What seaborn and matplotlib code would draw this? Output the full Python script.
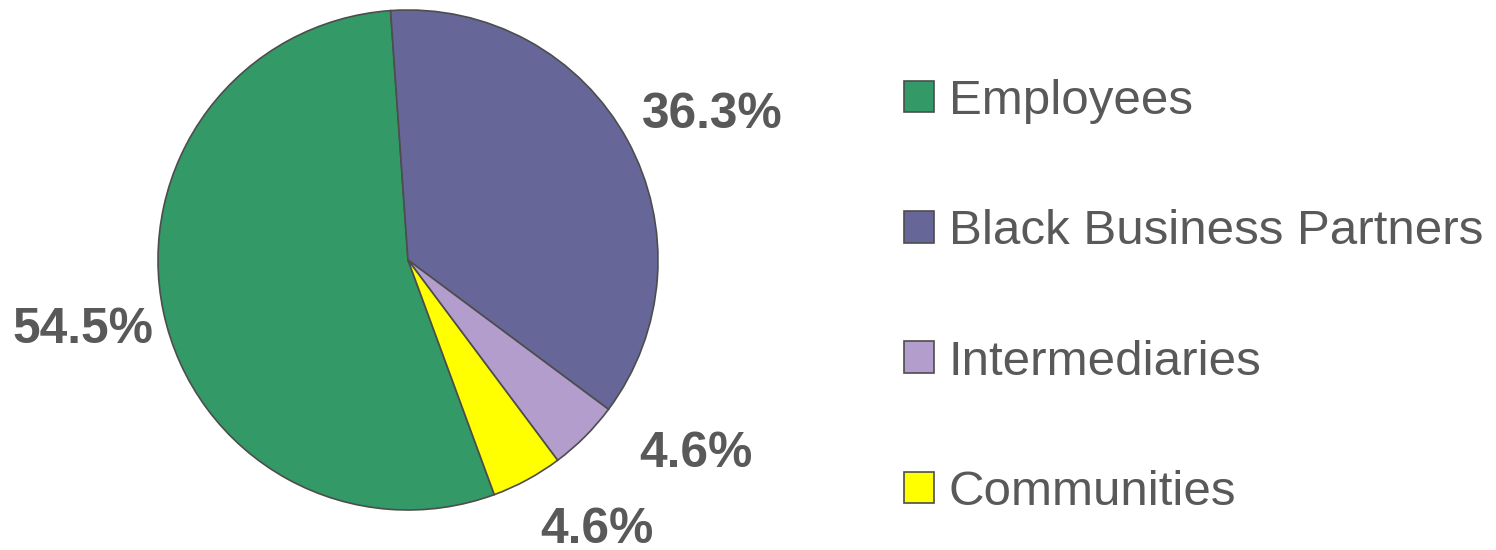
import numpy as np
import matplotlib
matplotlib.use("Agg")
import matplotlib.pyplot as plt
import matplotlib.patches as mpatches
import seaborn as sns

categories = ["Employees", "Black Business Partners", "Intermediaries", "Communities"]
shares = [54.5, 36.3, 4.6, 4.6]
colors = ["#339966", "#666699", "#B39DCC", "#FFFF00"]

# label placement tweaks (angle offset in degrees, distance in radii)
label_angle_shift = [0.0, -3.2, 11.0, 6.5]
label_dist = [1.33, 1.35, 1.39, 1.32]

sns.set_theme(style="white")
plt.rcParams["font.family"] = ["Liberation Sans", "DejaVu Sans"]
text_color = "#595959"
edge_color = "#4d4d4d"

fig = plt.figure(figsize=(14.96, 5.5), dpi=100)
ax = fig.add_axes([158 / 1496, 40 / 550, 500 / 1496, 500 / 550])

wedges, _ = ax.pie(shares, colors=colors, startangle=290.2, counterclock=False,
                   wedgeprops=dict(edgecolor=edge_color, linewidth=1.2))
ax.set_xlim(-1, 1)
ax.set_ylim(-1, 1)
ax.set_aspect("equal")

for w, val, da, dist in zip(wedges, shares, label_angle_shift, label_dist):
    ang = np.deg2rad((w.theta1 + w.theta2) / 2 + da)
    ax.text(dist * np.cos(ang), dist * np.sin(ang), f"{val:.1f}%",
            ha="center", va="center", fontsize=35.8, fontweight="bold",
            color=text_color, clip_on=False)

handles = [mpatches.Patch(facecolor=c, edgecolor=edge_color, linewidth=1.2) for c in colors]
leg = fig.legend(handles, categories, loc="center left",
                 bbox_to_anchor=(904 / 1496, 1 - 297 / 550),
                 frameon=False, fontsize=35.5, borderpad=0, borderaxespad=0,
                 handlelength=0.61, handleheight=0.61, handletextpad=0.3,
                 labelspacing=1.73)
for t in leg.get_texts():
    t.set_color(text_color)

fig.savefig("out.png", dpi=100)
